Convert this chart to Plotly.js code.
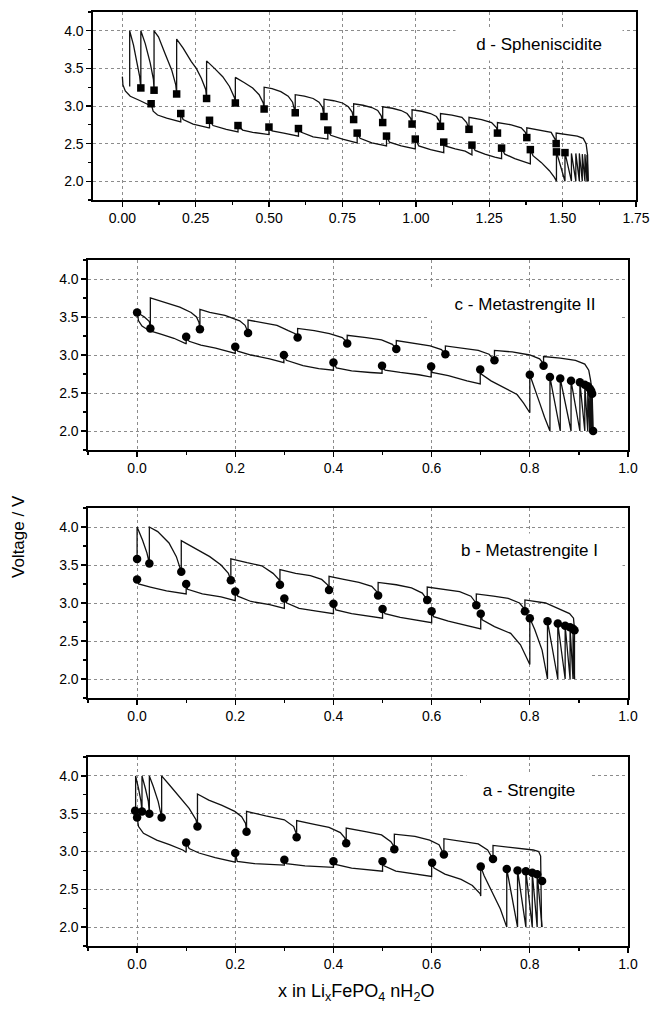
<!DOCTYPE html>
<html>
<head>
<meta charset="utf-8">
<script src="https://cdn.plot.ly/plotly-3.0.1.min.js"></script>
<style>html,body{margin:0;padding:0;background:#fff;}#chart{width:653px;height:1009px;}</style>
</head>
<body>
<div id="chart"></div>
<script>
// ---------- Panel d - Spheniscidite ----------
const dUpX = [0.025,0.025,0.038,0.050,0.059,0.063, 0.063,0.078,0.095,0.106,0.108, 0.108,0.123,0.145,0.168,0.182,0.185, 0.185,0.207,0.235,0.252,0.269,0.284,0.287, 0.287,0.314,0.342,0.365,0.382,0.385, 0.385,0.416,0.444,0.466,0.480,0.483, 0.483,0.51,0.54,0.565,0.58,0.589, 0.589,0.62,0.65,0.67,0.682,0.687, 0.687,0.72,0.75,0.77,0.783,0.788, 0.788,0.82,0.85,0.87,0.882,0.887, 0.887,0.92,0.95,0.97,0.982,0.987, 0.987,1.02,1.05,1.07,1.08,1.084, 1.084,1.123,1.157,1.173,1.181, 1.181,1.224,1.258,1.275,1.278, 1.278,1.325,1.359,1.373,1.378, 1.378,1.427,1.461,1.474,1.478, 1.478,1.52,1.55,1.57,1.58,1.585,1.587];
const dUpY = [3.26,4.00,3.81,3.57,3.39,3.24, 4.00,3.83,3.57,3.35,3.21, 4.00,3.92,3.70,3.48,3.28,3.16, 3.89,3.77,3.59,3.50,3.37,3.22,3.10, 3.60,3.50,3.39,3.26,3.11,3.04, 3.38,3.31,3.24,3.15,3.04,2.96, 3.25,3.23,3.19,3.13,3.05,2.91, 3.15,3.13,3.10,3.05,2.98,2.86, 3.09,3.07,3.04,2.99,2.92,2.82, 3.03,3.01,2.98,2.94,2.87,2.78, 2.99,2.97,2.94,2.90,2.84,2.76, 2.95,2.93,2.90,2.86,2.80,2.73, 2.90,2.88,2.85,2.78,2.69, 2.85,2.82,2.78,2.71,2.64, 2.78,2.75,2.71,2.65,2.58, 2.71,2.68,2.65,2.56,2.50, 2.64,2.62,2.60,2.57,2.50,2.35,2.00];
const dLoX = [0,0.002,0.01,0.027,0.061,0.095,0.098,0.098,0.105,0.12,0.151,0.199,0.199, 0.207,0.241,0.295,0.297,0.297, 0.309,0.354,0.394,0.394, 0.41,0.444,0.497,0.4995,0.4995, 0.51,0.55,0.597,0.6,0.6, 0.61,0.65,0.698,0.70,0.70, 0.71,0.75,0.797,0.8,0.8, 0.81,0.85,0.897,0.9,0.9, 0.91,0.95,0.995,0.998,0.998, 1.01,1.05,1.093,1.095,1.095, 1.10,1.134,1.168,1.191,1.191, 1.202,1.235,1.269,1.292,1.292, 1.303,1.337,1.37,1.39,1.39, 1.399,1.427,1.455,1.472,1.479,1.479, 1.508,1.508,1.53,1.53,1.545,1.545,1.557,1.557,1.567,1.567,1.576,1.576,1.583,1.583,1.587];
const dLoY = [3.39,3.28,3.20,3.13,3.07,3.01,3.00,3.03,2.93,2.88,2.84,2.79,2.90, 2.82,2.76,2.71,2.71,2.81, 2.74,2.69,2.655,2.74, 2.68,2.65,2.62,2.62,2.72, 2.67,2.64,2.60,2.60,2.70, 2.65,2.59,2.56,2.56,2.68, 2.61,2.56,2.51,2.51,2.64, 2.57,2.51,2.47,2.47,2.60, 2.52,2.47,2.43,2.43,2.56, 2.47,2.42,2.38,2.38,2.52, 2.47,2.43,2.40,2.35,2.48, 2.41,2.36,2.32,2.30,2.44, 2.36,2.30,2.25,2.23,2.42, 2.34,2.25,2.14,2.05,2.00,2.39, 2.00,2.38,2.00,2.37,2.00,2.37,2.00,2.37,2.00,2.36,2.00,2.36,2.00,2.35,2.00];
const dMkX = [0.063,0.108,0.185,0.287,0.385,0.483,0.589,0.687,0.788,0.887,0.987,1.084,1.181,1.278,1.378,1.478, 0.098,0.199,0.297,0.394,0.4995,0.6,0.70,0.8,0.9,0.998,1.095,1.191,1.292,1.39,1.479,1.508];
const dMkY = [3.24,3.21,3.16,3.10,3.04,2.96,2.91,2.86,2.82,2.78,2.76,2.73,2.69,2.64,2.58,2.50, 3.03,2.90,2.81,2.74,2.72,2.70,2.68,2.64,2.60,2.56,2.52,2.48,2.44,2.42,2.39,2.38];

// ---------- Panel c - Metastrengite II ----------
const cUpX = [0,0.015,0.025,0.027,0.027, 0.057,0.087,0.11,0.121,0.126,0.128,0.128, 0.148,0.179,0.209,0.22,0.226,0.226, 0.255,0.285,0.308,0.322,0.327,0.327, 0.361,0.392,0.418,0.426,0.428,0.428, 0.467,0.498,0.52,0.526,0.528,0.528, 0.566,0.597,0.62,0.626,0.628,0.628, 0.664,0.695,0.717,0.725,0.728,0.728, 0.764,0.8,0.82,0.826,0.828,0.828, 0.862,0.893,0.912,0.92,0.924,0.927,0.928];
const cUpY = [3.56,3.50,3.44,3.36,3.75, 3.69,3.63,3.56,3.50,3.43,3.35,3.60, 3.56,3.52,3.45,3.39,3.30,3.46, 3.43,3.39,3.32,3.28,3.23,3.35, 3.32,3.28,3.23,3.18,3.15,3.26, 3.23,3.20,3.14,3.10,3.08,3.19, 3.15,3.12,3.07,3.03,3.01,3.12, 3.09,3.06,3.01,2.96,2.93,3.06, 3.04,3.00,2.95,2.90,2.86,2.98, 2.96,2.93,2.88,2.80,2.66,2.49,2.00];
const cLoX = [0,0.003,0.01,0.025,0.05,0.075,0.099,0.1,0.1, 0.106,0.13,0.16,0.2,0.2, 0.205,0.232,0.27,0.299,0.299, 0.304,0.338,0.37,0.4,0.4, 0.406,0.437,0.475,0.499,0.499, 0.505,0.536,0.574,0.599,0.599, 0.601,0.634,0.672,0.694,0.699,0.699, 0.701,0.721,0.748,0.774,0.787,0.794,0.8,0.8, 0.807,0.82,0.83,0.841,0.841, 0.862,0.862,0.884,0.884,0.902,0.902,0.912,0.912,0.918,0.918,0.922,0.922,0.925,0.925,0.927,0.927,0.929];
const cLoY = [3.56,3.45,3.38,3.32,3.27,3.22,3.15,3.15,3.24, 3.18,3.13,3.09,3.02,3.11, 3.05,3.00,2.95,2.90,3.00, 2.93,2.86,2.82,2.80,2.90, 2.83,2.79,2.77,2.76,2.86, 2.80,2.77,2.74,2.71,2.85, 2.77,2.73,2.66,2.62,2.62,2.81, 2.75,2.66,2.57,2.48,2.37,2.29,2.24,2.74, 2.60,2.37,2.18,2.00,2.71, 2.00,2.69,2.00,2.66,2.00,2.64,2.00,2.61,2.00,2.59,2.00,2.56,2.00,2.53,2.00,2.49,2.00];
const cMkX = [0,0.027,0.128,0.226,0.327,0.428,0.528,0.628,0.728,0.828, 0.1,0.2,0.299,0.4,0.499,0.599,0.699,0.8,0.841,0.862,0.884,0.902,0.912,0.918,0.922,0.925,0.927,0.929];
const cMkY = [3.56,3.35,3.34,3.29,3.23,3.15,3.08,3.01,2.93,2.86, 3.24,3.11,3.00,2.90,2.86,2.85,2.81,2.74,2.71,2.69,2.66,2.64,2.61,2.59,2.56,2.53,2.49,2.00];

// ---------- Panel b - Metastrengite I ----------
const bUpX = [0,0,0.011,0.02,0.025,0.025, 0.042,0.065,0.08,0.087,0.09,0.09, 0.118,0.148,0.171,0.186,0.191,0.191, 0.224,0.254,0.277,0.289,0.291,0.291, 0.323,0.353,0.376,0.388,0.391,0.391, 0.421,0.452,0.478,0.488,0.491,0.491, 0.528,0.559,0.581,0.589,0.591,0.591, 0.627,0.657,0.68,0.688,0.691,0.691, 0.726,0.756,0.779,0.788,0.79,0.79, 0.832,0.862,0.881,0.889,0.891,0.891];
const bUpY = [3.58,4.00,3.83,3.66,3.52,4.00, 3.94,3.79,3.61,3.48,3.41,3.82, 3.72,3.61,3.50,3.39,3.30,3.58, 3.53,3.49,3.39,3.31,3.24,3.44, 3.39,3.36,3.31,3.24,3.17,3.35, 3.31,3.27,3.22,3.15,3.10,3.27, 3.24,3.20,3.13,3.06,3.04,3.21, 3.18,3.15,3.09,3.02,2.97,3.12, 3.09,3.06,3.00,2.93,2.89,3.04, 3.00,2.92,2.86,2.80,2.65,2.00];
const bLoX = [0,0.003,0.027,0.06,0.1,0.1, 0.103,0.133,0.171,0.2,0.2, 0.205,0.232,0.27,0.3,0.3, 0.305,0.33,0.369,0.4,0.4, 0.405,0.437,0.475,0.5,0.5, 0.505,0.536,0.574,0.6,0.6, 0.604,0.634,0.672,0.7,0.7, 0.703,0.728,0.761,0.781,0.795,0.8,0.8, 0.81,0.825,0.836,0.836,0.857,0.857,0.872,0.872,0.882,0.882,0.888,0.888,0.891];
const bLoY = [3.31,3.25,3.21,3.16,3.12,3.25, 3.18,3.12,3.08,3.03,3.15, 3.09,3.02,2.98,2.93,3.06, 3.00,2.93,2.89,2.86,2.99, 2.91,2.86,2.82,2.80,2.92, 2.86,2.81,2.77,2.74,2.89, 2.82,2.76,2.70,2.66,2.86, 2.78,2.69,2.60,2.45,2.25,2.19,2.80, 2.65,2.38,2.00,2.76,2.00,2.73,2.00,2.70,2.00,2.68,2.00,2.66,2.00];
const bMkX = [0,0.025,0.09,0.191,0.291,0.391,0.491,0.591,0.691,0.79, 0,0.1,0.2,0.3,0.4,0.5,0.6,0.7,0.8,0.836,0.857,0.872,0.882,0.888,0.891];
const bMkY = [3.58,3.52,3.41,3.30,3.24,3.17,3.10,3.04,2.97,2.89, 3.31,3.25,3.15,3.06,2.99,2.92,2.89,2.86,2.80,2.76,2.73,2.70,2.68,2.66,2.64];

// ---------- Panel a - Strengite ----------
const aUpX = [-0.003,-0.003,0.003,0.008,0.01,0.01,0.017,0.023,0.025,0.025,0.033,0.043,0.05,0.05, 0.066,0.086,0.106,0.12,0.123,0.123, 0.146,0.173,0.199,0.213,0.221,0.223,0.223, 0.262,0.3,0.319,0.324,0.325,0.325, 0.361,0.391,0.414,0.423,0.426,0.426, 0.468,0.498,0.517,0.523,0.524,0.524, 0.566,0.596,0.615,0.623,0.625,0.625, 0.665,0.695,0.714,0.722,0.725,0.725, 0.767,0.807,0.818,0.822,0.824];
const aUpY = [3.54,4.00,3.83,3.66,3.53,4.00,3.83,3.66,3.50,4.00,3.86,3.66,3.45,4.00, 3.88,3.72,3.57,3.42,3.33,3.76, 3.68,3.61,3.53,3.46,3.37,3.26,3.53, 3.47,3.42,3.33,3.24,3.19,3.41, 3.36,3.32,3.25,3.18,3.11,3.31, 3.26,3.22,3.13,3.07,3.03,3.23, 3.20,3.15,3.09,3.00,2.96,3.17, 3.13,3.10,3.02,2.94,2.90,3.08, 3.05,3.02,3.00,2.94,2.00];
const aLoX = [0,0.003,0.013,0.04,0.066,0.093,0.1,0.1, 0.106,0.126,0.159,0.2,0.2, 0.204,0.239,0.285,0.3,0.3, 0.304,0.342,0.4,0.4, 0.404,0.437,0.475,0.5,0.5, 0.503,0.527,0.567,0.6,0.6, 0.605,0.627,0.66,0.683,0.699,0.7,0.7, 0.707,0.72,0.74,0.753,0.753, 0.775,0.775,0.792,0.792,0.805,0.805,0.815,0.815,0.825];
const aLoY = [3.45,3.33,3.24,3.15,3.09,3.02,2.99,3.12, 3.04,2.98,2.92,2.86,2.98, 2.87,2.84,2.83,2.82,2.89, 2.84,2.81,2.79,2.87, 2.83,2.78,2.76,2.74,2.87, 2.81,2.74,2.70,2.67,2.85, 2.78,2.70,2.63,2.55,2.44,2.41,2.80, 2.68,2.50,2.24,2.00,2.77, 2.00,2.75,2.00,2.74,2.00,2.72,2.00,2.70,2.00];
const aMkX = [-0.004,0.01,0.025,0.05,0.123,0.223,0.325,0.426,0.524,0.625,0.725, 0,0.1,0.2,0.3,0.4,0.5,0.601,0.7,0.753,0.775,0.792,0.805,0.815,0.825];
const aMkY = [3.54,3.53,3.50,3.45,3.33,3.26,3.19,3.11,3.03,2.96,2.90, 3.45,3.12,2.98,2.89,2.87,2.87,2.85,2.80,2.77,2.75,2.74,2.72,2.70,2.61];

const panelLabels = ["d - Spheniscidite","c - Metastrengite II","b - Metastrengite I","a - Strengite"];
const yTicks = [2.0,2.5,3.0,3.5,4.0];

// ---------- build ----------
const W = 653, H = 1009;
const FONT = "Arial, 'Liberation Sans', sans-serif";
function dx(l, r) { return [l / W, r / W]; }
function dy(t, b) { return [1 - b / H, 1 - t / H]; }

const panels = [
  {up:[dUpX,dUpY], lo:[dLoX,dLoY], mk:[dMkX,dMkY], sym:'square', msize:7.5, xr:[-0.1,1.75], dt:0.25, fmt:'.2f', xd:dx(93,636), yd:dy(12,200), lab:panelLabels[0], lx:0.822, ly:3.83, bw:164},
  {up:[cUpX,cUpY], lo:[cLoX,cLoY], mk:[cMkX,cMkY], sym:'circle', msize:8.5, xr:[-0.1,1.0], dt:0.2, fmt:'.1f', xd:dx(88,628), yd:dy(260,450), lab:panelLabels[1], lx:0.809, ly:3.67, bw:190},
  {up:[bUpX,bUpY], lo:[bLoX,bLoY], mk:[bMkX,bMkY], sym:'circle', msize:8.5, xr:[-0.1,1.0], dt:0.2, fmt:'.1f', xd:dx(88,628), yd:dy(508,698), lab:panelLabels[2], lx:0.818, ly:3.70, bw:183},
  {up:[aUpX,aUpY], lo:[aLoX,aLoY], mk:[aMkX,aMkY], sym:'circle', msize:8.5, xr:[-0.1,1.0], dt:0.2, fmt:'.1f', xd:dx(88,628), yd:dy(757,946), lab:panelLabels[3], lx:0.817, ly:3.82, bw:122}
];

const traces = [];
const layout = {
  width: W, height: H, margin: {l:0, r:0, t:0, b:0},
  paper_bgcolor: '#fff', plot_bgcolor: '#fff', showlegend: false,
  font: {family: FONT, size: 14, color: '#000'},
  annotations: []
};

panels.forEach((p, i) => {
  const n = i === 0 ? '' : String(i + 1);
  const xa = 'x' + n, ya = 'y' + n;
  const lineStyle = {color: '#111', width: 1.3};
  traces.push({x: p.up[0], y: p.up[1], xaxis: xa, yaxis: ya, mode: 'lines', line: lineStyle, hoverinfo: 'skip'});
  traces.push({x: p.lo[0], y: p.lo[1], xaxis: xa, yaxis: ya, mode: 'lines', line: lineStyle, hoverinfo: 'skip'});
  traces.push({x: p.mk[0], y: p.mk[1], xaxis: xa, yaxis: ya, mode: 'markers',
    marker: {symbol: p.sym, size: p.msize, color: '#000', line: {width: 0}}, hoverinfo: 'skip'});
  const axCommon = {
    showline: true, linecolor: '#000', linewidth: 1.6, mirror: true,
    ticks: 'outside', ticklen: 5, tickwidth: 1.3, tickcolor: '#000',
    showgrid: true, gridcolor: '#8c8c8c', griddash: 'dot', gridwidth: 1,
    zeroline: false, tickfont: {family: FONT, size: 14, color: '#000'}
  };
  layout['xaxis' + n] = Object.assign({}, axCommon, {
    domain: p.xd, range: p.xr, anchor: ya, tick0: 0, dtick: p.dt, tickformat: p.fmt,
    minor: {dtick: p.dt / 2, ticks: 'outside', ticklen: 3, tickcolor: '#000', showgrid: false}
  });
  layout['yaxis' + n] = Object.assign({}, axCommon, {
    domain: p.yd, range: [1.75, 4.25], anchor: xa, tickvals: yTicks, tickformat: '.1f',
    minor: {dtick: 0.25, tick0: 0, ticks: 'outside', ticklen: 3, tickcolor: '#000', showgrid: false}
  });
  layout.annotations.push({
    text: p.lab, xref: xa + ' domain', yref: ya, x: p.lx, y: p.ly,
    xanchor: 'center', yanchor: 'middle',
    showarrow: false, bgcolor: '#fff', width: p.bw, height: 30,
    font: {family: FONT, size: 17, color: '#000'}
  });
});

layout.annotations.push({
  text: 'Voltage / V', xref: 'paper', yref: 'paper', x: 18 / W, y: 1 - 537 / H,
  xanchor: 'center', yanchor: 'middle',
  textangle: -90, showarrow: false, font: {family: FONT, size: 17, color: '#000'}
});
layout.annotations.push({
  text: 'x in Li<sub>x</sub>FePO<sub>4</sub> nH<sub>2</sub>O', xref: 'paper', yref: 'paper',
  x: 356 / W, y: 1 - 992 / H, xanchor: 'center', yanchor: 'middle',
  showarrow: false, font: {family: FONT, size: 18, color: '#000'}
});

Plotly.newPlot('chart', traces, layout, {staticPlot: true, displayModeBar: false});
</script>
</body>
</html>
